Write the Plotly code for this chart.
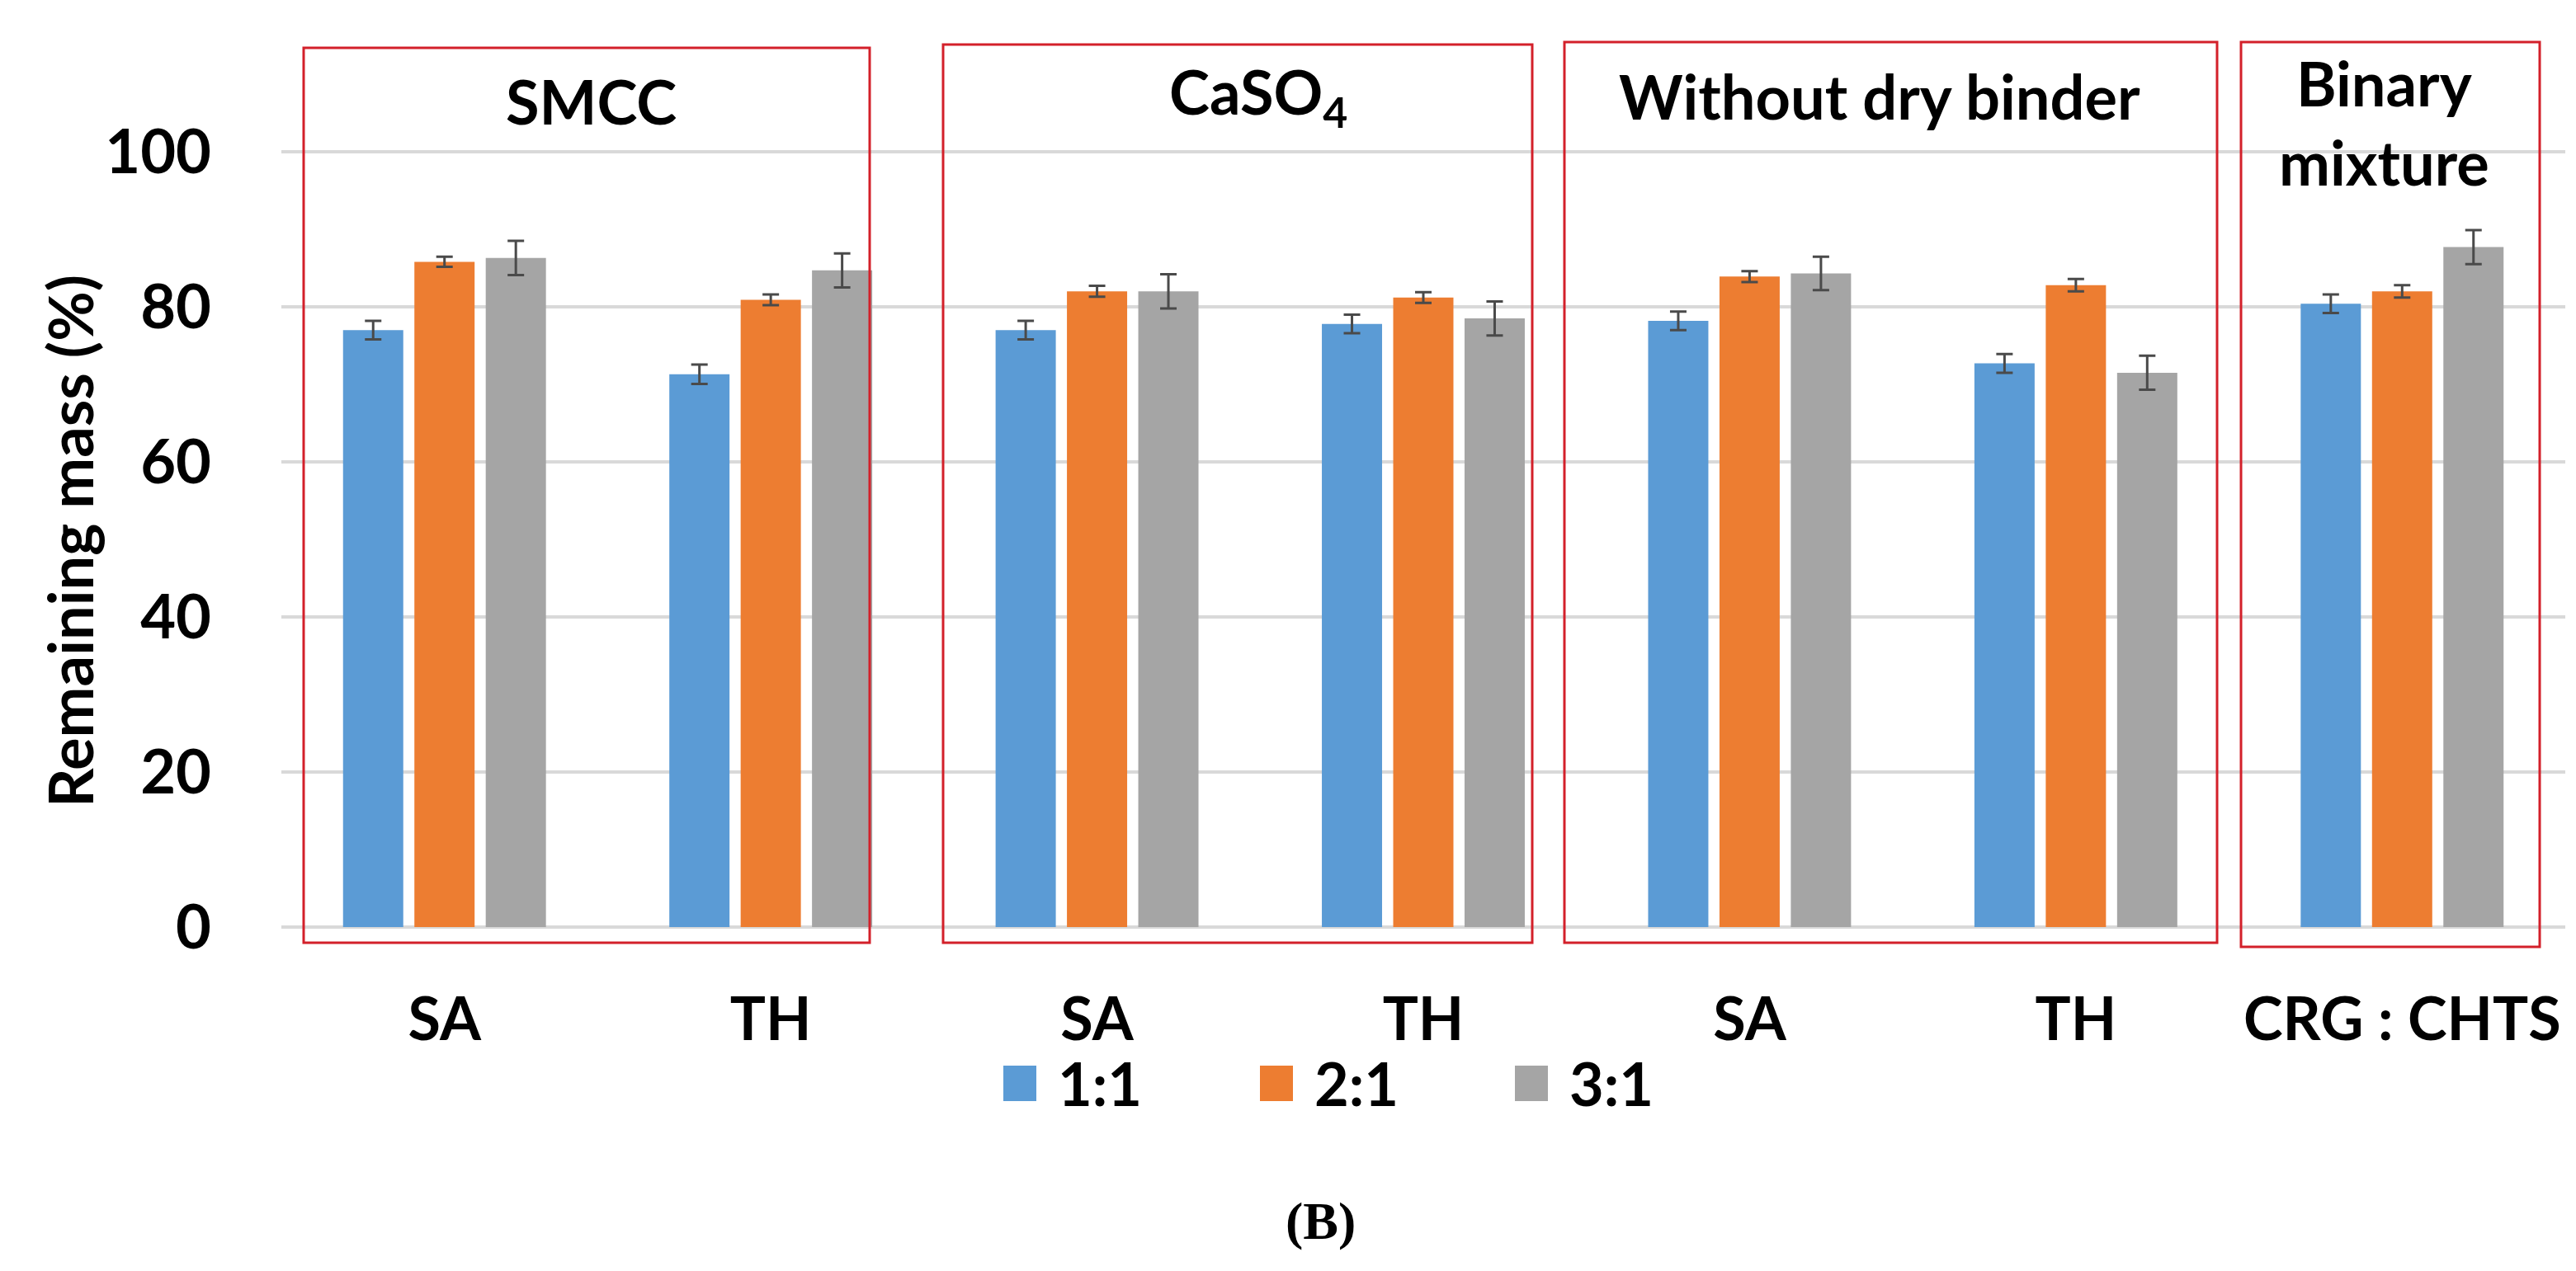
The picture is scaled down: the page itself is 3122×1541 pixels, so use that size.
import plotly.graph_objects as go

# ---- data ----
categories = ["SA", "TH", "SA", "TH", "SA", "TH", "CRG : CHTS"]
series_names = ["1:1", "2:1", "3:1"]
v_1_1 = [77.0, 71.3, 77.0, 77.8, 78.2, 72.7, 80.4]
v_2_1 = [85.8, 80.9, 82.0, 81.2, 83.9, 82.8, 82.0]
v_3_1 = [86.3, 84.7, 82.0, 78.5, 84.3, 71.5, 87.7]
e_1_1 = [1.2, 1.25, 1.2, 1.2, 1.2, 1.2, 1.2]
e_2_1 = [0.65, 0.7, 0.7, 0.7, 0.7, 0.8, 0.8]
e_3_1 = [2.2, 2.2, 2.2, 2.2, 2.15, 2.2, 2.2]
group_titles = ["SMCC", "CaSO<sub>4</sub>", "Without dry binder", "Binary<br>mixture"]
y_ticks = [0, 20, 40, 60, 80, 100]

colors = ["#5B9BD5", "#ED7D31", "#A5A5A5"]
FONT = "Lato, Roboto, sans-serif"

W, H = 3122, 1541
L, R, T, B = 333, 21, 82, 425
PW, PH = W - L - R, H - T - B


def xp(px):
    return (px - L) / PW


def yp(py):
    return (H - B - py) / PH


x = list(range(len(categories)))
fig = go.Figure()
for name, vals, errs, col in zip(series_names, [v_1_1, v_2_1, v_3_1],
                                 [e_1_1, e_2_1, e_3_1], colors):
    fig.add_trace(go.Bar(
        x=x, y=vals, name=name, marker=dict(color=col, line=dict(width=0)),
        error_y=dict(type="data", array=errs, visible=True, color="#4a4a4a",
                     thickness=3, width=10),
        showlegend=False,
    ))

fig.update_layout(
    width=W, height=H,
    margin=dict(l=L, r=R, t=T, b=B),
    paper_bgcolor="white", plot_bgcolor="white",
    barmode="group", bargap=0.344, bargroupgap=0.156,
    font=dict(family=FONT, size=72, color="black"),
    xaxis=dict(range=[-0.5, len(categories) - 0.5], tickvals=x, ticktext=categories,
               showgrid=False, zeroline=False, showline=False, ticks="",
               ticklabelstandoff=64,
               tickfont=dict(family=FONT, size=72, color="black", weight="bold")),
    yaxis=dict(range=[0, 110], tickvals=y_ticks, showgrid=True, gridcolor="#d9d9d9",
               gridwidth=3.5, zeroline=True, zerolinecolor="#d9d9d9", zerolinewidth=3.5,
               showline=False, ticks="", ticklabelstandoff=84,
               tickfont=dict(family=FONT, size=74, color="black", weight="bold")),
)

# red group boxes (pixel-estimated frame positions)
boxes = [(360, 1046, 50, 1135), (1135, 1849, 46, 1135),
         (1888, 2679, 43, 1135), (2708, 3070, 43, 1140)]
for (x0, x1, y0, y1) in boxes:
    fig.add_shape(type="rect", xref="paper", yref="paper",
                  x0=xp(x0), x1=xp(x1), y0=yp(y1), y1=yp(y0),
                  line=dict(color="#D3202A", width=3), fillcolor="rgba(0,0,0,0)")

title_pos = [(708, 114), (1517, 108), (2270, 108), (2881, 140)]
for txt, (tx, ty) in zip(group_titles, title_pos):
    fig.add_annotation(text=txt, xref="paper", yref="paper", x=xp(tx), y=yp(ty),
                       showarrow=False, xanchor="center", yanchor="middle",
                       font=dict(family=FONT, size=74, color="black", weight="bold"))

# y-axis title
fig.add_annotation(text="Remaining mass (%)", xref="paper", yref="paper",
                   x=xp(76), y=yp(648), textangle=-90, showarrow=False,
                   xanchor="center", yanchor="middle",
                   font=dict(family=FONT, size=74, color="black", weight="bold"))

# legend (custom)
leg_sq = [1208, 1519, 1828]
for name, col, sx in zip(series_names, colors, leg_sq):
    fig.add_shape(type="rect", xref="paper", yref="paper",
                  x0=xp(sx), x1=xp(sx + 40), y0=yp(1327), y1=yp(1284),
                  line=dict(width=0), fillcolor=col)
    fig.add_annotation(text=name, xref="paper", yref="paper", x=xp(sx + 64), y=yp(1305),
                       showarrow=False, xanchor="left", yanchor="middle",
                       font=dict(family=FONT, size=72, color="black", weight="bold"))

fig.add_annotation(text="(<b>B</b>)", xref="paper", yref="paper", x=xp(1592), y=yp(1472),
                   showarrow=False, xanchor="center", yanchor="middle",
                   font=dict(family="Liberation Serif, DejaVu Serif, serif", size=64,
                             color="black", weight="bold"))

fig.write_html("out.html")
